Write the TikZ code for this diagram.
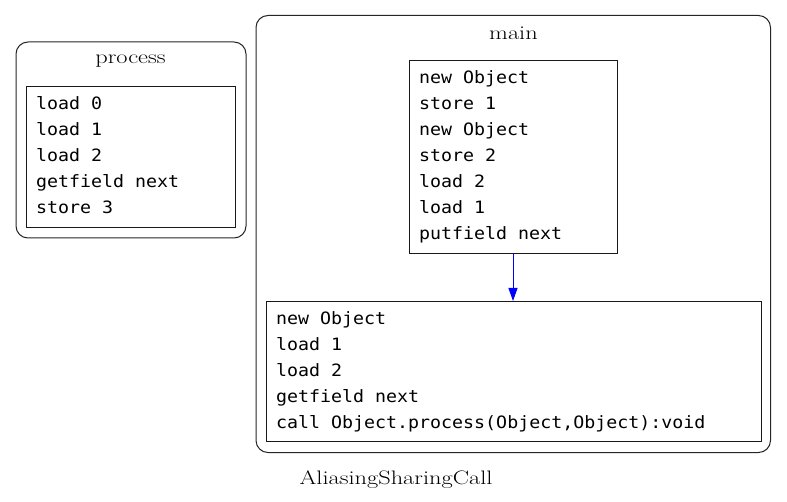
\documentclass[tikz,border=0pt]{standalone}
\usepackage{fontspec}
\newfontfamily\codefont{DejaVu Sans Mono}
\usetikzlibrary{arrows.meta}
\tikzset{
  cluster/.style={draw=black!85, line width=1pt, rounded corners=12pt},
  codebox/.style={draw=black!90, line width=1pt, anchor=north west, inner sep=0pt},
  code/.style={anchor=base west, inner sep=0pt, align=left, xscale=1.075, transform shape,
    font=\codefont\fontsize{17}{26}\selectfont},
  lbl/.style={anchor=base, inner sep=0pt, xscale=1.25, transform shape,
    font=\fontsize{19.5}{23}\selectfont},
  flow/.style={draw=blue, line width=1pt, -{Triangle[length=13pt,width=9pt]}}
}
\begin{document}
\begin{tikzpicture}[x=1pt,y=-1pt]
\useasboundingbox (0,0) rectangle (787,502);
% clusters
\draw[cluster] (16,42) rectangle (246,238);
\node[lbl] (lproc) at (130.5,64) {process};
\draw[cluster] (256,15.5) rectangle (770.5,452.5);
\node[lbl] (lmain) at (513.5,40) {main};
% process block (text anchored at the baseline of its last line)
\node[codebox, minimum width=209pt, minimum height=141pt] (p1) at (26,86) {};
\node[code] (p1t) at (36,213.5) {load 0\\load 1\\load 2\\getfield next\\store 3};
% main blocks
\node[codebox, minimum width=208pt, minimum height=193pt] (m1) at (409,60) {};
\node[code] (m1t) at (419,240) {new Object\\store 1\\new Object\\store 2\\load 2\\load 1\\putfield next};
\node[codebox, minimum width=494.5pt, minimum height=140pt] (m2) at (266,301) {};
\node[code] (m2t) at (276,428.5) {new Object\\load 1\\load 2\\getfield next\\call Object.process(Object,Object):void};
\draw[flow] (m1.south -| 513,0) -- (m2.north -| 513,0);
% title
\node[lbl] (title) at (396,484) {AliasingSharingCall};
\end{tikzpicture}
\end{document}
